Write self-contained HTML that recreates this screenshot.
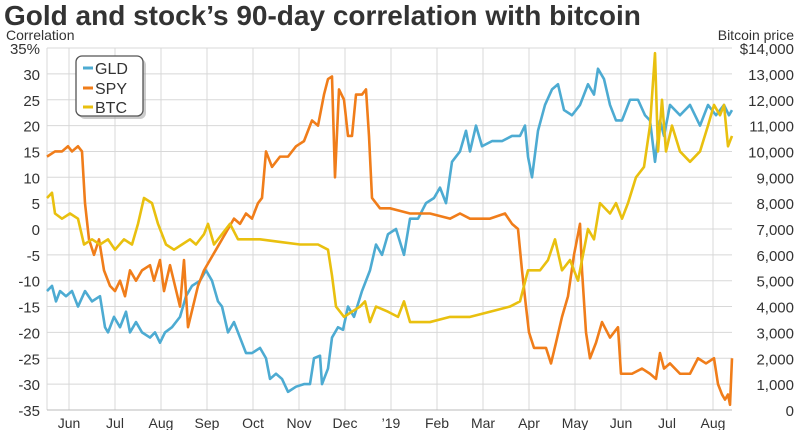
<!DOCTYPE html>
<html><head><meta charset="utf-8"><style>
body{margin:0;background:#fff;}
svg text{font-family:"Liberation Sans",sans-serif;fill:#333;}
</style></head><body>
<svg id="s" width="797" height="430" xmlns="http://www.w3.org/2000/svg">
<text x="4" y="25" font-size="28" font-weight="bold" fill="#3a3a3a">Gold and stock’s 90-day correlation with bitcoin</text>
<text x="6" y="40" font-size="14">Correlation</text>
<text x="794" y="40" font-size="14" text-anchor="end">Bitcoin price</text>
<g id="grid"></g>
<g id="lines"></g>
<rect x="79" y="59" width="67" height="60" rx="6" fill="#999" opacity="0.5"/>
<rect x="76" y="56" width="67" height="60" rx="6" fill="#fff" stroke="#555" stroke-width="1.3"/>
<line x1="83" y1="68" x2="93" y2="68" stroke="#4dabd2" stroke-width="3"/><text x="95" y="74" font-size="16">GLD</text>
<line x1="83" y1="88" x2="93" y2="88" stroke="#f07d1a" stroke-width="3"/><text x="95" y="94" font-size="16">SPY</text>
<line x1="83" y1="107" x2="93" y2="107" stroke="#e9c00f" stroke-width="3"/><text x="95" y="113" font-size="16">BTC</text>
</svg>
<script>
const NS="http://www.w3.org/2000/svg";
const Y=v=>229-v*5.17;
const g=document.getElementById('grid'),L=document.getElementById('lines');
function el(p,t,a,txt){const e=document.createElementNS(NS,t);for(const k in a)e.setAttribute(k,a[k]);if(txt)e.textContent=txt;p.appendChild(e);return e;}
for(let v=-35;v<=35;v+=5){el(g,'line',{x1:47,x2:732,y1:Y(v),y2:Y(v),stroke:'#d8d8d8','stroke-width':1});
el(g,'text',{x:40,y:Y(v)+6,'font-size':15,'text-anchor':'end'},v==35?'35%':String(v));
const p=(v+35)*200;el(g,'text',{x:794,y:Y(v)+6,'font-size':15,'text-anchor':'end'},p==14000?'$14,000':p.toLocaleString('en-US'));}
const m=['Jun','Jul','Aug','Sep','Oct','Nov','Dec','’19','Feb','Mar','Apr','May','Jun','Jul','Aug'];
m.forEach((t,i)=>{const x=69+46*i;el(g,'line',{x1:x,x2:x,y1:Y(35),y2:Y(-35),stroke:'#d8d8d8'});el(g,'text',{x:x,y:428,'font-size':14,'text-anchor':'middle'},t);});
el(g,'line',{x1:47,x2:47,y1:Y(35),y2:Y(-35),stroke:'#d8d8d8'});
el(g,'line',{x1:47,x2:732,y1:Y(-35),y2:Y(-35),stroke:'#bbb'});
function draw(d,c){el(L,'polyline',{points:d.map(p=>p[0]+','+Y(p[1])).join(' '),fill:'none',stroke:c,'stroke-width':2.6,'stroke-linejoin':'round'});}
const gld=[[47,-12],[52,-11],[56,-14],[60,-12],[66,-13],[72,-12],[78,-15],[85,-12],[92,-14],[100,-13],[105,-19],[108,-20],[114,-17],[120,-19],[126,-16],[130,-20],[136,-18],[142,-20],[150,-21],[155,-20],[160,-22],[165,-20],[172,-19],[180,-17],[186,-13],[192,-11],[200,-10],[206,-8],[212,-10],[218,-14],[222,-15],[228,-20],[234,-18],[240,-21],[246,-24],[252,-24],[260,-23],[266,-25],[270,-29],[276,-28],[282,-29],[288,-31.5],[296,-30.5],[304,-30],[310,-30],[314,-25],[320,-24.5],[322,-30],[328,-27],[332,-21],[338,-19],[343,-19.5],[348,-15],[354,-17],[362,-12],[370,-8],[376,-3],[382,-5],[388,-1],[396,0],[404,-5],[410,2],[418,2],[426,5],[434,6],[440,8],[446,5],[452,13],[460,15],[466,19],[470,15],[476,20],[482,16],[492,17],[502,17],[512,18],[520,18],[525,20],[528,14],[532,10],[538,19],[545,24],[552,27],[558,28],[564,23],[572,22],[580,24],[588,28],[594,26],[598,31],[604,29],[610,24],[616,21],[622,21],[630,25],[638,25],[645,22],[650,21],[655,13],[660,21],[664,18],[670,24],[680,22],[690,24],[700,20],[708,24],[716,22],[724,24],[729,22],[732,23]];
const spy=[[47,14],[55,15],[62,15],[68,16],[72,15],[78,16],[82,15],[85,5],[89,-2],[94,-5],[99,-2],[104,-8],[110,-11],[115,-12],[120,-10],[125,-13],[130,-8],[136,-10],[142,-8],[150,-7],[154,-10],[160,-6],[164,-12],[170,-7],[175,-11],[180,-15],[184,-6],[188,-19],[193,-15],[198,-11],[204,-8],[210,-6],[216,-4],[222,-2],[228,0],[234,2],[240,1],[246,3],[252,2],[258,5],[262,6],[266,15],[272,12],[280,14],[288,14],[296,16],[304,17],[312,21],[318,20],[324,26],[328,29],[332,29.5],[335,10],[339,27],[344,25],[348,18],[352,18],[356,26],[362,26],[366,27],[369,18],[372,6],[380,4],[390,4],[400,3.5],[410,3],[430,3],[450,2],[460,3],[470,2],[490,2],[505,3],[512,1],[518,0],[522,-8],[526,-15],[529,-20],[534,-23],[546,-23],[551,-26],[556,-22],[562,-17],[568,-13],[574,-5],[580,1],[582,-8],[586,-20],[590,-25],[596,-22],[602,-18],[610,-21],[618,-19],[621,-28],[626,-28],[632,-28],[642,-27],[650,-28],[656,-29],[660,-24],[664,-27],[670,-26],[680,-28],[690,-28],[698,-25],[706,-26],[714,-25],[718,-30],[722,-32],[725,-33],[728,-32],[730,-34],[732,-25]];
const btc=[[47,6],[52,7],[55,3],[62,2],[70,3],[78,2],[84,-3],[92,-2],[100,-3],[108,-2],[115,-4],[124,-2],[132,-3],[138,1],[144,6],[152,5],[158,1],[166,-3],[174,-4],[182,-3],[190,-2],[196,-3],[204,-1],[208,1],[214,-3],[222,-1],[230,1],[238,-2],[260,-2],[280,-2.5],[300,-3],[318,-3],[328,-4],[332,-9],[336,-15],[344,-17],[352,-16],[360,-15],[365,-14],[370,-18],[376,-15],[388,-16],[398,-17],[404,-14],[410,-18],[430,-18],[450,-17],[470,-17],[490,-16],[510,-15],[520,-14],[528,-8],[540,-8],[548,-6],[555,-2],[562,-8],[570,-6],[578,-10],[583,-5],[588,0],[594,-2],[600,5],[610,3],[616,5],[622,2],[628,5],[636,10],[644,12],[650,20],[655,34],[658,15],[662,25],[666,15],[672,20],[680,15],[690,13],[700,15],[708,20],[714,24],[720,22],[724,24],[728,16],[732,18]];
draw(gld,'#4dabd2');draw(spy,'#f07d1a');draw(btc,'#e9c00f');
</script>
</body></html>
